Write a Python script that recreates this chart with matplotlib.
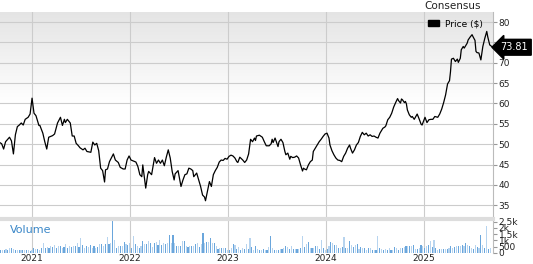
import matplotlib
matplotlib.use("Agg")
import matplotlib.pyplot as plt
import numpy as np
import pandas as pd
from matplotlib.ticker import FuncFormatter, FixedLocator
from matplotlib.patches import Patch

# price (decimal year, $)
price_year = [
    2020.67, 2020.69, 2020.71, 2020.73, 2020.77, 2020.79, 2020.81, 2020.83, 2020.85, 2020.87,
    2020.89, 2020.91, 2020.93, 2020.96, 2020.98, 2021.00, 2021.02, 2021.04, 2021.07, 2021.08,
    2021.11, 2021.13, 2021.15, 2021.17, 2021.21, 2021.23, 2021.26, 2021.29, 2021.31, 2021.33,
    2021.34, 2021.36, 2021.39, 2021.41, 2021.43, 2021.45, 2021.47, 2021.49, 2021.52, 2021.54,
    2021.56, 2021.60, 2021.62, 2021.64, 2021.66, 2021.68, 2021.70, 2021.72, 2021.74, 2021.75,
    2021.77, 2021.79, 2021.83, 2021.85, 2021.88, 2021.90, 2021.93, 2021.95, 2021.97, 2021.99,
    2022.01, 2022.03, 2022.06, 2022.08, 2022.10, 2022.12, 2022.13, 2022.16, 2022.18, 2022.19,
    2022.22, 2022.25, 2022.27, 2022.29, 2022.31, 2022.33, 2022.35, 2022.37, 2022.39, 2022.41,
    2022.43, 2022.45, 2022.46, 2022.49, 2022.51, 2022.52, 2022.54, 2022.56, 2022.58, 2022.60,
    2022.62, 2022.64, 2022.65, 2022.68, 2022.70, 2022.72, 2022.74, 2022.76, 2022.77, 2022.79,
    2022.81, 2022.83, 2022.85, 2022.87, 2022.89, 2022.91, 2022.93, 2022.95, 2022.97, 2022.99,
    2023.01, 2023.03, 2023.05, 2023.07, 2023.09, 2023.10, 2023.12, 2023.15, 2023.17, 2023.19,
    2023.21, 2023.23, 2023.25, 2023.27, 2023.28, 2023.29, 2023.32, 2023.35, 2023.37, 2023.39,
    2023.42, 2023.44, 2023.45, 2023.46, 2023.48, 2023.50, 2023.51, 2023.52, 2023.54, 2023.56,
    2023.58, 2023.59, 2023.61, 2023.63, 2023.64, 2023.66, 2023.68, 2023.70, 2023.72, 2023.74,
    2023.76, 2023.77, 2023.78, 2023.80, 2023.82, 2023.84, 2023.86, 2023.87, 2023.89, 2023.91,
    2023.93, 2023.95, 2023.97, 2023.99, 2024.01, 2024.03, 2024.04, 2024.06, 2024.08, 2024.10,
    2024.12, 2024.14, 2024.16, 2024.18, 2024.20, 2024.22, 2024.24, 2024.25, 2024.27, 2024.29,
    2024.31, 2024.33, 2024.35, 2024.37, 2024.39, 2024.41, 2024.43, 2024.45, 2024.47, 2024.49,
    2024.51, 2024.53, 2024.55, 2024.58, 2024.60, 2024.61, 2024.63, 2024.65, 2024.67, 2024.69,
    2024.71, 2024.73, 2024.74, 2024.76, 2024.77, 2024.78, 2024.80, 2024.81, 2024.82, 2024.83,
    2024.85, 2024.87, 2024.88, 2024.90, 2024.93, 2024.95, 2024.97, 2024.98, 2025.00, 2025.01,
    2025.03, 2025.05, 2025.07, 2025.09, 2025.11, 2025.14, 2025.16, 2025.18, 2025.20, 2025.22,
    2025.24, 2025.26, 2025.27, 2025.28, 2025.30, 2025.32, 2025.34, 2025.35, 2025.37, 2025.38,
    2025.40, 2025.41, 2025.44, 2025.45, 2025.47, 2025.49, 2025.50, 2025.52, 2025.53, 2025.54,
    2025.56, 2025.58, 2025.60, 2025.62, 2025.64, 2025.65, 2025.67, 2025.69, 2025.70,
]
price = [
    50.4, 50.1, 48.8, 50.6, 51.7, 50.8, 47.6, 52.3, 54.3, 54.7,
    55.2, 54.7, 56.1, 56.6, 57.4, 61.3, 57.6, 57.0, 54.6, 54.6,
    52.7, 50.6, 48.8, 51.7, 52.1, 52.5, 55.2, 56.6, 54.6, 56.1,
    55.3, 56.1, 55.2, 52.0, 52.0, 50.2, 49.7, 49.1, 48.6, 49.0,
    48.2, 48.0, 50.5, 49.8, 50.2, 48.4, 44.1, 43.5, 40.7, 43.7,
    43.9, 45.7, 47.6, 46.1, 45.5, 44.3, 43.9, 43.9, 46.1, 47.1,
    46.1, 45.9, 45.6, 44.5, 42.5, 42.0, 44.9, 39.2, 42.5, 43.3,
    42.5, 46.7, 45.3, 46.1, 45.3, 46.1, 44.7, 46.8, 48.6, 46.6,
    43.3, 41.2, 42.7, 43.5, 40.8, 39.6, 41.2, 42.5, 42.7, 44.1,
    43.9, 43.5, 42.0, 42.9, 41.2, 39.6, 37.5, 37.0, 36.1, 38.4,
    40.8, 39.6, 42.5, 43.5, 44.3, 45.6, 46.1, 46.0, 46.5, 46.3,
    47.0, 47.3, 47.1, 46.6, 45.7, 45.5, 46.8, 46.1, 45.5, 46.1,
    47.6, 51.2, 50.6, 51.5, 50.9, 52.0, 52.2, 51.7, 50.6, 49.6,
    49.6, 50.1, 51.2, 50.4, 51.5, 50.1, 49.4, 50.6, 51.2, 50.4,
    48.2, 47.4, 47.8, 46.3, 47.0, 46.7, 46.8, 47.1, 46.6, 44.9,
    43.4, 44.1, 43.9, 43.7, 44.9, 45.7, 46.1, 48.2, 49.0, 49.8,
    50.6, 51.2, 51.9, 52.5, 52.7, 51.5, 49.8, 48.4, 47.4, 46.6,
    46.1, 46.0, 45.7, 47.0, 47.8, 49.0, 49.8, 49.0, 47.8, 48.6,
    49.8, 50.4, 51.9, 52.9, 52.3, 52.7, 52.0, 52.3, 51.9, 52.0,
    51.7, 51.5, 52.7, 53.9, 54.2, 54.5, 56.0, 56.6, 57.6, 59.1,
    60.2, 61.2, 60.7, 60.1, 61.1, 60.9, 60.2, 60.5, 59.9, 58.4,
    57.2, 56.6, 56.8, 56.1, 57.4, 56.2, 54.9, 54.7, 56.0, 56.6,
    55.3, 56.0, 56.1, 56.1, 56.8, 56.6, 57.4, 58.6, 60.2, 62.1,
    64.8, 65.6, 67.8, 70.9, 71.1, 70.3, 70.9, 70.1, 71.1, 73.2,
    74.0, 73.6, 74.8, 75.6, 76.3, 76.9, 76.4, 75.5, 72.8, 72.5,
    72.4, 70.7, 74.0, 76.0, 77.7, 76.4, 74.4, 74.0, 73.81,
]

# weekly volume
vol_start = "2020-09-04"
volume = [
    210, 260, 210, 310, 260, 360, 420, 310, 260, 230, 260, 230, 260, 230, 260, 210, 160, 260, 360, 310,
    310, 260, 360, 780, 420, 470, 420, 520, 470, 620, 420, 520, 570, 420, 470, 680, 360, 520, 470, 570,
    520, 780, 470, 1200, 620, 360, 570, 470, 620, 360, 520, 360, 470, 730, 680, 570, 730, 1250, 680, 780,
    2600, 1040, 420, 520, 570, 520, 850, 730, 620, 780, 360, 1350, 730, 520, 360, 570, 940, 730, 730, 990,
    780, 470, 780, 890, 620, 1040, 620, 830, 680, 830, 1460, 780, 1410, 780, 570, 570, 570, 940, 940, 520,
    470, 520, 520, 570, 730, 780, 470, 680, 1560, 780, 890, 890, 1200, 780, 780, 520, 310, 360, 420, 420,
    360, 260, 260, 360, 730, 620, 310, 470, 260, 360, 310, 680, 310, 1200, 470, 260, 520, 310, 260, 260,
    310, 260, 260, 470, 1350, 420, 260, 260, 260, 310, 310, 420, 570, 470, 310, 570, 310, 310, 310, 310,
    360, 1350, 470, 730, 890, 420, 420, 420, 520, 570, 310, 1040, 420, 260, 310, 520, 890, 780, 620, 620,
    360, 420, 470, 1300, 360, 360, 990, 620, 470, 620, 730, 310, 470, 360, 420, 260, 420, 420, 210, 260,
    210, 1350, 360, 310, 260, 310, 210, 420, 210, 260, 470, 360, 210, 360, 420, 470, 520, 570, 570, 520,
    620, 310, 310, 420, 620, 520, 420, 570, 620, 990, 470, 1040, 360, 260, 310, 310, 310, 310, 310, 360,
    570, 360, 470, 520, 570, 570, 620, 520, 780, 620, 570, 360, 310, 620, 470, 420, 1460, 620, 360, 2190,
    310, 360,
]

years = [2021, 2022, 2023, 2024, 2025]
price_ticks = [35, 40, 45, 50, 55, 60, 65, 70, 75, 80]
vol_ticks = [0, 500, 1000, 1500, 2000, 2500]

GRID = "#cccccc"
TXT = "#222222"
VOL_DARK = "#6aa6dc"
VOL_LIGHT = "#b7d4ef"

vdates = pd.date_range(vol_start, periods=len(volume), freq="7D")
vyear = vdates.year + (vdates.dayofyear - 1) / 365.25

x0, x1 = 2020.673, 2025.704

fig = plt.figure(figsize=(5.33, 2.64), dpi=100)
ax = fig.add_axes([0.0, 0.178, 0.925, 0.777])
axv = fig.add_axes([0.0, 0.042, 0.925, 0.129], sharex=ax)

# soft grey-to-white gradient behind the price line
grad = np.linspace(0, 1, 256).reshape(-1, 1)
bg = matplotlib.colors.LinearSegmentedColormap.from_list(
    "bg", [(0, "#e4e4e4"), (0.45, "#ffffff"), (1, "#ffffff")])
ax.imshow(grad, aspect="auto", cmap=bg, extent=[x0, x1, 32.1, 82.5], origin="upper", zorder=0)

ax.plot(price_year, price, color="black", lw=0.9, zorder=3)
ax.set_xlim(x0, x1)
ax.set_ylim(32.1, 82.5)
ax.yaxis.tick_right()
ax.set_yticks(price_ticks)
ax.tick_params(axis="y", length=3, color="#999999", labelsize=6.5, labelcolor=TXT, pad=1)
ax.tick_params(axis="x", length=0, labelbottom=False)
ax.xaxis.set_major_locator(FixedLocator(years))
ax.grid(True, color=GRID, lw=0.8, zorder=1)
for s in ["top", "left", "bottom"]:
    ax.spines[s].set_visible(False)
ax.spines["right"].set_color("#bbbbbb")

ax.legend(handles=[Patch(facecolor="black", edgecolor="black")], labels=["Price ($)"],
          loc="upper right", bbox_to_anchor=(0.99, 0.99), frameon=False, fontsize=6.5,
          handlelength=1.3, handleheight=0.6, handletextpad=0.6, borderaxespad=0.2)

ax.annotate(f"{price[-1]:.2f}", xy=(1.0, price[-1]), xycoords=("axes fraction", "data"),
            xytext=(5.5, 0), textcoords="offset points", ha="left", va="center",
            color="white", fontsize=7,
            bbox=dict(boxstyle="larrow,pad=0.3", fc="black", ec="black"),
            annotation_clip=False)

fig.text(0.85, 0.977, "Consensus", ha="center", va="center", fontsize=7.5, color=TXT)

# volume panel
colors = [VOL_DARK if i % 2 == 0 else VOL_LIGHT for i in range(len(volume))]
axv.bar(vyear, volume, width=0.0115, color=colors, linewidth=0, zorder=2)
axv.set_ylim(0, 2730)
axv.yaxis.tick_right()
axv.set_yticks(vol_ticks)
axv.yaxis.set_major_formatter(FuncFormatter(
    lambda v, p: "0" if v == 0 else (f"{v/1000:g}k" if v >= 1000 else f"{v:g}")))
axv.tick_params(axis="y", length=3, color="#999999", labelsize=6.5, labelcolor=TXT, pad=1)
axv.set_xticks(years)
axv.set_xticklabels([str(y) for y in years])
axv.tick_params(axis="x", length=0, labelsize=6.5, labelcolor=TXT, pad=0.5)
axv.grid(True, axis="x", color=GRID, lw=0.8, zorder=1)
for s in ["left", "bottom"]:
    axv.spines[s].set_visible(False)
axv.spines["top"].set_color("#dddddd")
axv.spines["top"].set_linewidth(3)
axv.spines["right"].set_color("#bbbbbb")
axv.text(0.02, 0.68, "Volume", transform=axv.transAxes, color="#3a87c8", fontsize=8,
         ha="left", va="center")

fig.savefig("out.png", dpi=100, facecolor="white")
